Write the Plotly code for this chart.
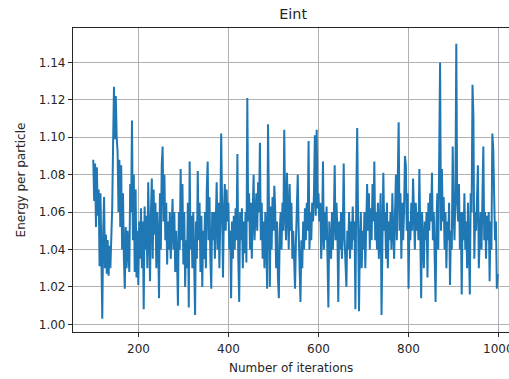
import plotly.graph_objects as go

# iterations sampled every 2 steps from 100 to 998
iterations = list(range(100, 1000, 2))

energy = [
    1.088, 1.066, 1.086, 1.052, 1.084, 1.058, 1.072, 1.031, 1.070, 1.036,
    1.003, 1.050, 1.068, 1.030, 1.048, 1.027, 1.045, 1.026, 1.042, 1.030,
    1.046, 1.062, 1.096, 1.127, 1.099, 1.122, 1.100, 1.092, 1.060, 1.088,
    1.052, 1.085, 1.040, 1.070, 1.035, 1.019, 1.052, 1.030, 1.050, 1.040,
    1.028, 1.075, 1.060, 1.109, 1.045, 1.080, 1.028, 1.072, 1.025, 1.050,
    1.021, 1.055, 1.035, 1.062, 1.030, 1.055, 1.008, 1.063, 1.040, 1.058,
    1.030, 1.076, 1.040, 1.023, 1.060, 1.078, 1.035, 1.072, 1.048, 1.065,
    1.030, 1.060, 1.045, 1.014, 1.070, 1.040, 1.085, 1.095, 1.055, 1.080,
    1.045, 1.065, 1.032, 1.055, 1.040, 1.060, 1.035, 1.058, 1.067, 1.040,
    1.060, 1.028, 1.050, 1.035, 1.010, 1.060, 1.040, 1.083, 1.045, 1.075,
    1.032, 1.060, 1.020, 1.045, 1.030, 1.065, 1.009, 1.087, 1.040, 1.058,
    1.030, 1.060, 1.040, 1.005, 1.055, 1.035, 1.082, 1.045, 1.065, 1.028,
    1.058, 1.020, 1.050, 1.035, 1.060, 1.030, 1.072, 1.087, 1.045, 1.068,
    1.035, 1.019, 1.060, 1.045, 1.060, 1.035, 1.055, 1.076, 1.040, 1.065,
    1.030, 1.055, 1.102, 1.040, 1.025, 1.060, 1.075, 1.050, 1.072, 1.055,
    1.065, 1.040, 1.050, 1.014, 1.055, 1.035, 1.058, 1.040, 1.062, 1.045,
    1.091, 1.035, 1.012, 1.060, 1.045, 1.062, 1.030, 1.055, 1.038, 1.060,
    1.033, 1.121, 1.055, 1.070, 1.040, 1.065, 1.035, 1.060, 1.080, 1.045,
    1.062, 1.070, 1.050, 1.076, 1.060, 1.097, 1.045, 1.065, 1.035, 1.055,
    1.030, 1.060, 1.045, 1.019, 1.107, 1.050, 1.020, 1.063, 1.040, 1.068,
    1.050, 1.074, 1.060, 1.030, 1.055, 1.025, 1.014, 1.050, 1.060, 1.040,
    1.065, 1.050, 1.104, 1.060, 1.045, 1.081, 1.062, 1.040, 1.075, 1.050,
    1.065, 1.035, 1.050, 1.030, 1.019, 1.045, 1.060, 1.080, 1.050, 1.035,
    1.012, 1.045, 1.030, 1.055, 1.040, 1.062, 1.045, 1.065, 1.050, 1.098,
    1.040, 1.060, 1.045, 1.065, 1.055, 1.070, 1.101, 1.058, 1.104, 1.062,
    1.070, 1.055, 1.065, 1.035, 1.050, 1.087, 1.040, 1.060, 1.045, 1.063,
    1.030, 1.009, 1.055, 1.045, 1.035, 1.060, 1.040, 1.055, 1.085, 1.045,
    1.065, 1.050, 1.012, 1.055, 1.040, 1.060, 1.035, 1.050, 1.086, 1.045,
    1.035, 1.020, 1.050, 1.040, 1.060, 1.035, 1.055, 1.040, 1.063, 1.045,
    1.055, 1.008, 1.070, 1.105, 1.055, 1.007, 1.045, 1.060, 1.030, 1.050,
    1.040, 1.060, 1.030, 1.055, 1.075, 1.050, 1.070, 1.040, 1.062, 1.045,
    1.075, 1.055, 1.087, 1.045, 1.060, 1.040, 1.065, 1.035, 1.050, 1.070,
    1.005, 1.045, 1.081, 1.050, 1.060, 1.035, 1.065, 1.030, 1.055, 1.045,
    1.060, 1.040, 1.070, 1.050, 1.035, 1.060, 1.080, 1.045, 1.095, 1.108,
    1.050, 1.070, 1.035, 1.065, 1.045, 1.060, 1.090, 1.085, 1.050, 1.070,
    1.019, 1.055, 1.045, 1.065, 1.050, 1.078, 1.060, 1.040, 1.065, 1.050,
    1.060, 1.045, 1.083, 1.050, 1.014, 1.060, 1.045, 1.030, 1.055, 1.045,
    1.060, 1.025, 1.065, 1.050, 1.070, 1.055, 1.081, 1.045, 1.060, 1.040,
    1.012, 1.055, 1.070, 1.040, 1.095, 1.140, 1.050, 1.083, 1.055, 1.068,
    1.040, 1.060, 1.030, 1.055, 1.045, 1.065, 1.021, 1.050, 1.040, 1.095,
    1.060, 1.045, 1.070, 1.150, 1.065, 1.055, 1.075, 1.040, 1.060, 1.016,
    1.060, 1.045, 1.070, 1.040, 1.055, 1.030, 1.065, 1.045, 1.016, 1.070,
    1.060, 1.128, 1.111, 1.035, 1.060, 1.050, 1.065, 1.085, 1.030, 1.055,
    1.060, 1.040, 1.065, 1.095, 1.045, 1.060, 1.035, 1.058, 1.045, 1.060,
    1.023, 1.055, 1.040, 1.102, 1.094, 1.060, 1.045, 1.055, 1.019, 1.027,
]

x_ticks = [200, 400, 600, 800, 1000]
x_labels = ["200", "400", "600", "800", "1000"]
y_ticks = [1.00, 1.02, 1.04, 1.06, 1.08, 1.10, 1.12, 1.14]
y_labels = ["1.00", "1.02", "1.04", "1.06", "1.08", "1.10", "1.12", "1.14"]

font = "DejaVu Sans"
text_color = "#262626"

fig = go.Figure()
fig.add_trace(go.Scatter(
    x=iterations, y=energy, mode="lines",
    line=dict(color="#1f77b4", width=2),
    showlegend=False,
))

# x tick labels drawn as annotations so the edge label "1000" stays (clipped at the edge, as in the reference)
for v, t in zip(x_ticks, x_labels):
    fig.add_annotation(x=v, xref="x", y=0, yref="paper", yshift=-17,
                       text=t, showarrow=False, xanchor="center", yanchor="middle",
                       font=dict(family=font, size=12, color=text_color))

fig.update_layout(
    width=509, height=379,
    margin=dict(l=73, r=0, t=28, b=47),
    paper_bgcolor="white", plot_bgcolor="white",
    font=dict(family=font, size=12, color=text_color),
    title=dict(text="Eint", x=0.576, xref="container", xanchor="center",
               y=0.962, yref="container", yanchor="middle",
               font=dict(family=font, size=14.4, color=text_color)),
)
fig.update_xaxes(
    range=[55, 1023], tickvals=x_ticks, ticktext=x_labels, showticklabels=False,
    showgrid=True, gridcolor="#b0b0b0", gridwidth=1,
    showline=True, linecolor="#262626", linewidth=1.2, mirror=True,
    ticks="outside", ticklen=4, tickcolor="#262626", tickwidth=1,
    zeroline=False,
)
fig.add_annotation(x=0.5, xref="paper", y=0, yref="paper", yshift=-36,
                   text="Number of iterations", showarrow=False,
                   xanchor="center", yanchor="middle",
                   font=dict(family=font, size=12, color=text_color))
fig.update_yaxes(
    range=[0.9959, 1.1584], tickvals=y_ticks, ticktext=y_labels,
    showgrid=True, gridcolor="#b0b0b0", gridwidth=1,
    showline=True, linecolor="#262626", linewidth=1.2, mirror=False,
    ticks="outside", ticklen=4, tickcolor="#262626", tickwidth=1,
    zeroline=False,
    title=dict(text="Energy per particle", font=dict(family=font, size=12), standoff=10),
)

fig.write_html("out.html")
